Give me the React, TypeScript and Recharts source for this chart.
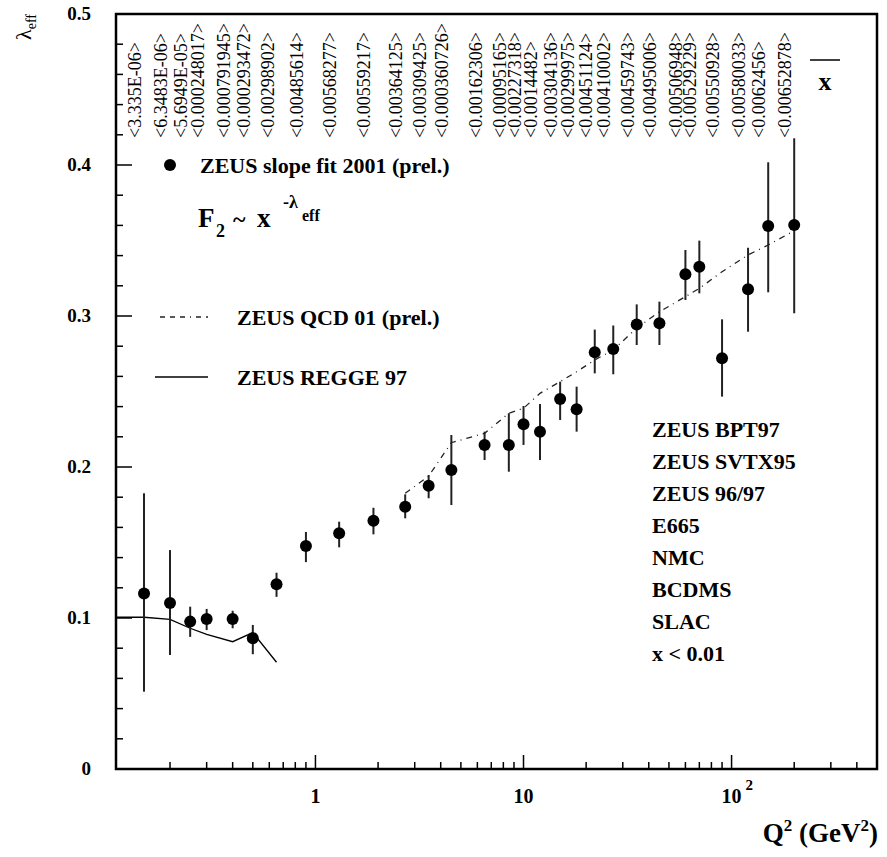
import React from "react";
import {
  ComposedChart,
  XAxis,
  YAxis,
  Scatter,
  Line,
  ErrorBar,
  ReferenceArea,
} from "recharts";

// ---- data ----
const Q2 = [
  0.15, 0.2, 0.25, 0.3, 0.4, 0.5, 0.65, 0.9, 1.3, 1.9, 2.7, 3.5, 4.5, 6.5, 8.5,
  10, 12, 15, 18, 22, 27, 35, 45, 60, 70, 90, 120, 150, 200,
];
const LAMBDA = [
  0.1163, 0.11, 0.0976, 0.0993, 0.0993, 0.0866, 0.1223, 0.1477, 0.1561, 0.1644,
  0.1737, 0.1876, 0.198, 0.2146, 0.2146, 0.2283, 0.2234, 0.245, 0.2382, 0.276,
  0.2781, 0.2944, 0.2952, 0.3276, 0.3326, 0.272, 0.3177, 0.3596, 0.3603,
];
const LAMBDA_HI = [
  0.1826, 0.145, 0.1075, 0.106, 0.1048, 0.0954, 0.13, 0.157, 0.1638, 0.173,
  0.1819, 0.1947, 0.2212, 0.2234, 0.2356, 0.2404, 0.2417, 0.2565, 0.2532, 0.291,
  0.2937, 0.3077, 0.3095, 0.3437, 0.3499, 0.2978, 0.3452, 0.4018, 0.4177,
];
const LAMBDA_LO = [
  0.0512, 0.0755, 0.0875, 0.092, 0.0932, 0.076, 0.114, 0.137, 0.1468, 0.1554,
  0.166, 0.1793, 0.1748, 0.2046, 0.1969, 0.2146, 0.2046, 0.2311, 0.2234, 0.262,
  0.2614, 0.2808, 0.2808, 0.3106, 0.315, 0.2466, 0.2896, 0.3157, 0.3018,
];
const X_MEAN = [
  "<3.335E-06>", "<6.3483E-06>", "<5.6949E-05>", "<0.000248017>", "<0.000791945>",
  "<0.000293472>", "<0.00298902>", "<0.00485614>", "<0.00568277>", "<0.00559217>",
  "<0.00364125>", "<0.00309425>", "<0.000360726>", "<0.00162306>", "<0.00095165>",
  "<0.00227318>", "<0.0014482>", "<0.00304136>", "<0.00299975>", "<0.00451124>",
  "<0.00410002>", "<0.00459743>", "<0.00495006>", "<0.00506948>", "<0.00529229>",
  "<0.00550928>", "<0.00580033>", "<0.0062456>", "<0.00652878>",
];

const QCD_Q2 = [2.7, 3.5, 4.5, 6.5, 8.5, 10, 12, 15, 18, 22, 27, 35, 45, 60, 70, 90, 120, 150, 200];
const QCD_LAMBDA = [
  0.1826, 0.194, 0.2161, 0.2223, 0.2356, 0.2389, 0.2488, 0.2565, 0.2631, 0.2709,
  0.2775, 0.292, 0.3028, 0.3128, 0.3183, 0.3293, 0.3404, 0.347, 0.3565,
];

const REGGE_Q2 = [0.11, 0.15, 0.2, 0.25, 0.3, 0.4, 0.5, 0.65];
const REGGE_LAMBDA = [0.1005, 0.1005, 0.0991, 0.0932, 0.0892, 0.0843, 0.0903, 0.0707];

const DATA_SETS = ["ZEUS BPT97", "ZEUS SVTX95", "ZEUS 96/97", "E665", "NMC", "BCDMS", "SLAC", "x < 0.01"];

const X_TICKS = [
  0.2, 0.3, 0.4, 0.5, 0.6, 0.7, 0.8, 0.9, 1, 2, 3, 4, 5, 6, 7, 8, 9, 10, 20, 30,
  40, 50, 60, 70, 80, 90, 100, 200, 300, 400,
];
const Y_TICKS = [
  0, 0.02, 0.04, 0.06, 0.08, 0.1, 0.12, 0.14, 0.16, 0.18, 0.2, 0.22, 0.24, 0.26,
  0.28, 0.3, 0.32, 0.34, 0.36, 0.38, 0.4, 0.42, 0.44, 0.46, 0.48, 0.5,
];
const Y_LABELS: Record<string, string> = { "0": "0", "0.1": "0.1", "0.2": "0.2", "0.3": "0.3", "0.4": "0.4", "0.5": "0.5" };

const points = Q2.map((q, i) => ({
  q2: q,
  lam: LAMBDA[i],
  err: [LAMBDA[i] - LAMBDA_LO[i], LAMBDA_HI[i] - LAMBDA[i]],
  xm: X_MEAN[i],
}));
const qcd = QCD_Q2.map((q, i) => ({ q2: q, lam: QCD_LAMBDA[i] }));
const regge = REGGE_Q2.map((q, i) => ({ q2: q, lam: REGGE_LAMBDA[i] }));

const W = 887;
const H = 857;
const PLOT = { left: 116, right: 877, top: 14, bottom: 769 };
const serif = "'Liberation Serif', 'DejaVu Serif', serif";

//====== inward ticks on the Q2 axis ======
const XTick = (props: any) => {
  const v = props.payload.value;
  const x = props.payload.coordinate ?? props.x;
  const major = v === 1 || v === 10 || v === 100;
  const len = major ? 14 : 7;
  return (
    <g>
      <line x1={x} x2={x} y1={PLOT.bottom} y2={PLOT.bottom - len} stroke="#000" strokeWidth={1.5} />
      {v === 1 && (
        <text x={x} y={803} textAnchor="middle" fontSize={20} fontWeight="bold" fontFamily={serif}>1</text>
      )}
      {v === 10 && (
        <text x={x} y={803} textAnchor="middle" fontSize={20} fontWeight="bold" fontFamily={serif}>10</text>
      )}
      {v === 100 && (
        <g fontWeight="bold" fontFamily={serif}>
          <text x={x} y={803} textAnchor="middle" fontSize={20}>10</text>
          <text x={x + 14} y={790} fontSize={15}>2</text>
        </g>
      )}
    </g>
  );
};

//====== inward ticks on the lambda axis ======
const YTick = (props: any) => {
  const v = props.payload.value;
  const y = props.payload.coordinate ?? props.y;
  const key = String(Math.round(v * 100) / 100);
  const major = key in Y_LABELS;
  const len = major ? 16 : 7;
  return (
    <g>
      <line x1={PLOT.left} x2={PLOT.left + len} y1={y} y2={y} stroke="#000" strokeWidth={1.5} />
      {major && (
        <text x={91} y={y + 6} textAnchor="end" fontSize={19} fontWeight="bold" fontFamily={serif}>
          {Y_LABELS[key]}
        </text>
      )}
    </g>
  );
};

const PointShape = (p: any) => {
  const { cx, cy, payload } = p;
  const bx = cx - 3;
  return (
    <g>
      <circle cx={cx} cy={cy} r={6} fill="#000" />
      <text
        x={bx}
        y={138}
        transform={`rotate(-90 ${bx} 138)`}
        fontSize={18}
        fontFamily={serif}
        fill="#000"
      >
        {payload.xm}
      </text>
    </g>
  );
};

export default function App() {
  return (
    <div style={{ position: "absolute", left: 0, top: 0, width: W, height: H, background: "#fff" }}>
      <ComposedChart
        width={W}
        height={H}
        margin={{ top: PLOT.top, right: W - PLOT.right, bottom: 0, left: 0 }}
        style={{ fontFamily: serif }}
      >
        <XAxis
          type="number"
          dataKey="q2"
          scale="log"
          domain={[0.11, 500]}
          allowDataOverflow
          ticks={X_TICKS}
          interval={0}
          height={H - PLOT.bottom}
          axisLine={false}
          tickLine={false}
          tick={<XTick />}
        />
        <YAxis
          type="number"
          dataKey="lam"
          domain={[0, 0.5]}
          allowDataOverflow
          ticks={Y_TICKS}
          interval={0}
          width={PLOT.left}
          axisLine={false}
          tickLine={false}
          tick={<YTick />}
        />
        <ReferenceArea x1={0.11} x2={500} y1={0} y2={0.5} fill="none" stroke="#000" strokeWidth={2.5} ifOverflow="visible" />
        <Line
          data={regge}
          dataKey="lam"
          stroke="#000"
          strokeWidth={1.3}
          dot={false}
          isAnimationActive={false}
        />
        <Line
          data={qcd}
          dataKey="lam"
          stroke="#222"
          strokeWidth={1.3}
          strokeDasharray="6 5 1 5"
          dot={false}
          isAnimationActive={false}
        />
        <Scatter data={points} dataKey="lam" shape={<PointShape />} isAnimationActive={false}>
          <ErrorBar dataKey="err" direction="y" width={0} stroke="#222" strokeWidth={2} />
        </Scatter>
      </ComposedChart>

      {/*===== annotations drawn over the chart =====*/}
      <svg
        width={W}
        height={H}
        style={{ position: "absolute", left: 0, top: 0, pointerEvents: "none" }}
        fontFamily={serif}
      >
        {/* y axis title */}
        <text x={31} y={40} transform="rotate(-90 31 40)" fontSize={22}>
          λ<tspan fontSize={14} dy={5}>eff</tspan>
        </text>

        {/* x axis title */}
        <text x={878} y={842} textAnchor="end" fontSize={27} fontWeight="bold">
          Q<tspan fontSize={17} dy={-11}>2</tspan>
          <tspan dy={11}> (GeV</tspan>
          <tspan fontSize={17} dy={-11}>2</tspan>
          <tspan dy={11}>)</tspan>
        </text>

        {/* x-bar */}
        <line x1={810} x2={840} y1={60} y2={60} stroke="#000" strokeWidth={1.5} />
        <text x={825} y={90} textAnchor="middle" fontSize={26} fontWeight="bold">x</text>

        {/* legend */}
        <circle cx={170} cy={165} r={6} fill="#000" />
        <text x={200} y={173} fontSize={22} fontWeight="bold">ZEUS slope fit 2001 (prel.)</text>

        <text x={198} y={227} fontSize={27} fontWeight="bold">F</text>
        <text x={216} y={237} fontSize={18} fontWeight="bold">2</text>
        <text x={233} y={227} fontSize={24} fontWeight="bold">~</text>
        <text x={257} y={227} fontSize={27} fontWeight="bold">x</text>
        <text x={283} y={208} fontSize={18} fontWeight="bold">-λ</text>
        <text x={302} y={221} fontSize={16} fontWeight="bold">eff</text>

        <line x1={160} x2={208} y1={317} y2={317} stroke="#222" strokeWidth={1.3} strokeDasharray="5 5 5 5 5 5 1 5" />
        <text x={237} y={325} fontSize={22} fontWeight="bold">ZEUS QCD 01 (prel.)</text>

        <line x1={155} x2={208} y1={377} y2={377} stroke="#000" strokeWidth={1.3} />
        <text x={237} y={385} fontSize={22} fontWeight="bold">ZEUS REGGE 97</text>

        {DATA_SETS.map((s, i) => (
          <text key={s} x={652} y={437 + i * 32} fontSize={22} fontWeight="bold">
            {s}
          </text>
        ))}
      </svg>
    </div>
  );
}
